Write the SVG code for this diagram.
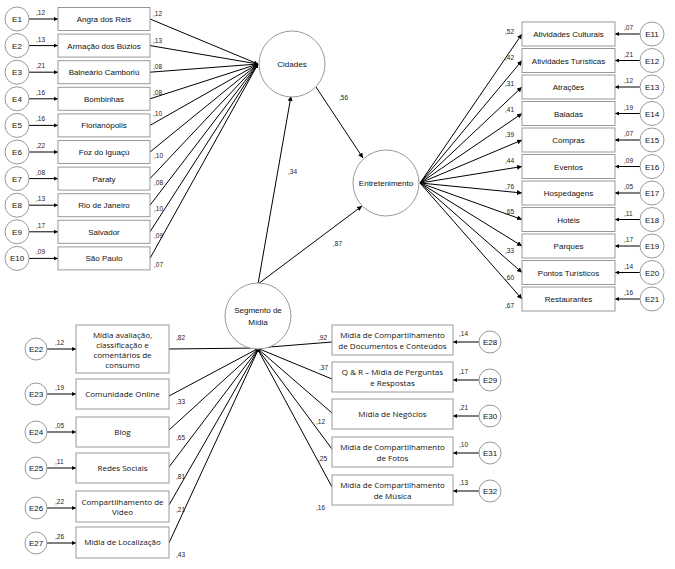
<svg xmlns="http://www.w3.org/2000/svg" width="675" height="569" viewBox="0 0 675 569">
<defs>
<marker id="ah" viewBox="0 0 10 10" refX="10" refY="5" markerWidth="5" markerHeight="5" orient="auto" markerUnits="userSpaceOnUse"><path d="M0,0 L10,5 L0,10 z" fill="#000"/></marker>
<marker id="ah2" viewBox="0 0 10 10" refX="10" refY="5" markerWidth="4" markerHeight="4" orient="auto" markerUnits="userSpaceOnUse"><path d="M0,0 L10,5 L0,10 z" fill="#000"/></marker>
</defs>
<style>
.bx{fill:#fff;stroke:#999;stroke-width:1}
.ci{fill:#fff;stroke:#999;stroke-width:1}
.t{font-family:"Liberation Sans",Arial,sans-serif;font-size:8px;fill:#111;text-anchor:middle}
.tg{font-family:"Open Sans","DejaVu Sans",sans-serif;font-size:8px;fill:#111;text-anchor:middle}
.n{font-family:"Liberation Sans",Arial,sans-serif;font-size:6.5px;fill:#222}
.la{stroke:#000;stroke-width:1;fill:none;marker-end:url(#ah)}
.ls{stroke:#000;stroke-width:1;fill:none;marker-end:url(#ah2)}
</style>

<g id="connectors">
<line class="ls" x1="29" y1="19" x2="58" y2="19"/>
<line class="ls" x1="29" y1="45.6" x2="58" y2="45.6"/>
<line class="ls" x1="29" y1="72.2" x2="58" y2="72.2"/>
<line class="ls" x1="29" y1="98.8" x2="58" y2="98.8"/>
<line class="ls" x1="29" y1="125.4" x2="58" y2="125.4"/>
<line class="ls" x1="29" y1="152" x2="58" y2="152"/>
<line class="ls" x1="29" y1="178.6" x2="58" y2="178.6"/>
<line class="ls" x1="29" y1="205.2" x2="58" y2="205.2"/>
<line class="ls" x1="29" y1="231.8" x2="58" y2="231.8"/>
<line class="ls" x1="29" y1="258.4" x2="58" y2="258.4"/>
<line class="ls" x1="150" y1="19" x2="258" y2="64"/>
<line class="ls" x1="150" y1="45.6" x2="258" y2="64"/>
<line class="ls" x1="150" y1="72.2" x2="258" y2="64"/>
<line class="ls" x1="150" y1="98.8" x2="258" y2="64"/>
<line class="ls" x1="150" y1="125.4" x2="258" y2="64"/>
<line class="ls" x1="150" y1="152" x2="258" y2="64"/>
<line class="ls" x1="150" y1="178.6" x2="258" y2="64"/>
<line class="ls" x1="150" y1="205.2" x2="258" y2="64"/>
<line class="ls" x1="150" y1="231.8" x2="258" y2="64"/>
<line class="ls" x1="150" y1="258.4" x2="258" y2="64"/>
<line class="la" x1="316" y1="87" x2="363" y2="158"/>
<line class="la" x1="258" y1="284" x2="291" y2="96"/>
<line class="la" x1="258" y1="284" x2="362" y2="206"/>
<line class="la" x1="420" y1="183" x2="522" y2="34"/>
<line class="la" x1="420" y1="183" x2="522" y2="60.5"/>
<line class="la" x1="420" y1="183" x2="522" y2="87"/>
<line class="la" x1="420" y1="183" x2="522" y2="113.5"/>
<line class="la" x1="420" y1="183" x2="522" y2="140"/>
<line class="la" x1="420" y1="183" x2="522" y2="166.5"/>
<line class="la" x1="420" y1="183" x2="522" y2="193"/>
<line class="la" x1="420" y1="183" x2="522" y2="219.5"/>
<line class="la" x1="420" y1="183" x2="522" y2="246"/>
<line class="la" x1="420" y1="183" x2="522" y2="272.5"/>
<line class="la" x1="420" y1="183" x2="522" y2="299"/>
<line class="ls" x1="640" y1="34" x2="615" y2="34"/>
<line class="ls" x1="640" y1="60.5" x2="615" y2="60.5"/>
<line class="ls" x1="640" y1="87" x2="615" y2="87"/>
<line class="ls" x1="640" y1="113.5" x2="615" y2="113.5"/>
<line class="ls" x1="640" y1="140" x2="615" y2="140"/>
<line class="ls" x1="640" y1="166.5" x2="615" y2="166.5"/>
<line class="ls" x1="640" y1="193" x2="615" y2="193"/>
<line class="ls" x1="640" y1="219.5" x2="615" y2="219.5"/>
<line class="ls" x1="640" y1="246" x2="615" y2="246"/>
<line class="ls" x1="640" y1="272.5" x2="615" y2="272.5"/>
<line class="ls" x1="640" y1="299" x2="615" y2="299"/>
<line class="ls" x1="47" y1="349" x2="76" y2="349"/>
<line class="ls" x1="47" y1="394" x2="76" y2="394"/>
<line class="ls" x1="47" y1="432" x2="76" y2="432"/>
<line class="ls" x1="47" y1="468" x2="76" y2="468"/>
<line class="ls" x1="47" y1="508" x2="76" y2="508"/>
<line class="ls" x1="47" y1="543" x2="76" y2="543"/>
<line class="ls" x1="169" y1="349" x2="259" y2="348"/>
<line class="ls" x1="169" y1="396" x2="259" y2="348"/>
<line class="ls" x1="169" y1="430" x2="259" y2="348"/>
<line class="ls" x1="169" y1="467" x2="259" y2="348"/>
<line class="ls" x1="169" y1="505" x2="259" y2="348"/>
<line class="ls" x1="169" y1="543" x2="259" y2="348"/>
<line class="ls" x1="332" y1="342" x2="257" y2="348"/>
<line class="ls" x1="332" y1="379" x2="257" y2="348"/>
<line class="ls" x1="332" y1="413" x2="257" y2="348"/>
<line class="ls" x1="332" y1="449" x2="257" y2="348"/>
<line class="ls" x1="332" y1="487" x2="257" y2="348"/>
<line class="ls" x1="479" y1="342" x2="453" y2="342"/>
<line class="ls" x1="479" y1="380" x2="453" y2="380"/>
<line class="ls" x1="479" y1="416" x2="453" y2="416"/>
<line class="ls" x1="479" y1="453" x2="453" y2="453"/>
<line class="ls" x1="479" y1="491" x2="453" y2="491"/>
</g>

<g id="labels">
<text class="n" x="36" y="15">,12</text>
<text class="n" x="36" y="41.6">,13</text>
<text class="n" x="36" y="68.2">,21</text>
<text class="n" x="36" y="94.8">,16</text>
<text class="n" x="36" y="121.4">,16</text>
<text class="n" x="36" y="148">,22</text>
<text class="n" x="36" y="174.6">,08</text>
<text class="n" x="36" y="201.2">,13</text>
<text class="n" x="36" y="227.8">,17</text>
<text class="n" x="36" y="254.4">,09</text>
<text class="n" x="153" y="16">,12</text>
<text class="n" x="153" y="43">,13</text>
<text class="n" x="153" y="69">,08</text>
<text class="n" x="153" y="95">,08</text>
<text class="n" x="153" y="116">,10</text>
<text class="n" x="154" y="158">,10</text>
<text class="n" x="154" y="185">,08</text>
<text class="n" x="154" y="211">,10</text>
<text class="n" x="154" y="238">,09</text>
<text class="n" x="154" y="267">,07</text>
<text class="n" x="339" y="100">,56</text>
<text class="n" x="288" y="174">,34</text>
<text class="n" x="333" y="246">,87</text>
<text class="n" x="505" y="34">,52</text>
<text class="n" x="505" y="60">,42</text>
<text class="n" x="505" y="86">,31</text>
<text class="n" x="505" y="112">,41</text>
<text class="n" x="505" y="137">,39</text>
<text class="n" x="505" y="163">,44</text>
<text class="n" x="505" y="189">,76</text>
<text class="n" x="505" y="214">,65</text>
<text class="n" x="505" y="253">,33</text>
<text class="n" x="505" y="280">,60</text>
<text class="n" x="505" y="308">,67</text>
<text class="n" x="624" y="30">,07</text>
<text class="n" x="624" y="56.5">,21</text>
<text class="n" x="624" y="83">,12</text>
<text class="n" x="624" y="109.5">,19</text>
<text class="n" x="624" y="136">,07</text>
<text class="n" x="624" y="162.5">,09</text>
<text class="n" x="624" y="189">,05</text>
<text class="n" x="624" y="215.5">,11</text>
<text class="n" x="624" y="242">,17</text>
<text class="n" x="624" y="268.5">,14</text>
<text class="n" x="624" y="295">,16</text>
<text class="n" x="55" y="345">,12</text>
<text class="n" x="55" y="390">,19</text>
<text class="n" x="55" y="428">,05</text>
<text class="n" x="55" y="464">,11</text>
<text class="n" x="55" y="504">,22</text>
<text class="n" x="55" y="539">,26</text>
<text class="n" x="176" y="340">,82</text>
<text class="n" x="176" y="404">,33</text>
<text class="n" x="176" y="440">,65</text>
<text class="n" x="176" y="479">,81</text>
<text class="n" x="176" y="512">,21</text>
<text class="n" x="176" y="557">,43</text>
<text class="n" x="318" y="340">,92</text>
<text class="n" x="319" y="370">,37</text>
<text class="n" x="316" y="424">,12</text>
<text class="n" x="318" y="461">,25</text>
<text class="n" x="316" y="510">,16</text>
<text class="n" x="459" y="336">,14</text>
<text class="n" x="459" y="374">,17</text>
<text class="n" x="459" y="410">,21</text>
<text class="n" x="459" y="447">,10</text>
<text class="n" x="459" y="485">,13</text>
</g>

<g id="cidades"><circle class="ci" cx="292" cy="64" r="33"/><text class="t" x="292" y="67">Cidades</text></g>
<g id="entretenimento"><circle class="ci" cx="386" cy="183" r="33"/><text class="t" x="386" y="186">Entretenimento</text></g>
<g id="segmento"><circle class="ci" cx="258" cy="316" r="33"/><text class="t" x="258" y="313">Segmento de</text><text class="t" x="258" y="325">Mídia</text></g>

<g id="e1"><circle class="ci" cx="17" cy="19" r="12"/><text class="t" x="17" y="22">E1</text></g>
<g id="e2"><circle class="ci" cx="17" cy="45.6" r="12"/><text class="t" x="17" y="48.6">E2</text></g>
<g id="e3"><circle class="ci" cx="17" cy="72.2" r="12"/><text class="t" x="17" y="75.2">E3</text></g>
<g id="e4"><circle class="ci" cx="17" cy="98.8" r="12"/><text class="t" x="17" y="101.8">E4</text></g>
<g id="e5"><circle class="ci" cx="17" cy="125.4" r="12"/><text class="t" x="17" y="128.4">E5</text></g>
<g id="e6"><circle class="ci" cx="17" cy="152" r="12"/><text class="t" x="17" y="155">E6</text></g>
<g id="e7"><circle class="ci" cx="17" cy="178.6" r="12"/><text class="t" x="17" y="181.6">E7</text></g>
<g id="e8"><circle class="ci" cx="17" cy="205.2" r="12"/><text class="t" x="17" y="208.2">E8</text></g>
<g id="e9"><circle class="ci" cx="17" cy="231.8" r="12"/><text class="t" x="17" y="234.8">E9</text></g>
<g id="e10"><circle class="ci" cx="17" cy="258.4" r="12"/><text class="t" x="17" y="261.4">E10</text></g>

<g id="angra"><rect class="bx" x="58" y="7.5" width="92" height="23"/><text class="t" x="104" y="22">Angra dos Reis</text></g>
<g id="buzios"><rect class="bx" x="58" y="34.1" width="92" height="23"/><text class="t" x="104" y="48.6">Armação dos Búzios</text></g>
<g id="camboriu"><rect class="bx" x="58" y="60.7" width="92" height="23"/><text class="t" x="104" y="75.2">Balneário Camboriú</text></g>
<g id="bombinhas"><rect class="bx" x="58" y="87.3" width="92" height="23"/><text class="t" x="104" y="101.8">Bombinhas</text></g>
<g id="floripa"><rect class="bx" x="58" y="113.9" width="92" height="23"/><text class="t" x="104" y="128.4">Florianópolis</text></g>
<g id="foz"><rect class="bx" x="58" y="140.5" width="92" height="23"/><text class="t" x="104" y="155">Foz do Iguaçú</text></g>
<g id="paraty"><rect class="bx" x="58" y="167.1" width="92" height="23"/><text class="t" x="104" y="181.6">Paraty</text></g>
<g id="rio"><rect class="bx" x="58" y="193.7" width="92" height="23"/><text class="t" x="104" y="208.2">Rio de Janeiro</text></g>
<g id="salvador"><rect class="bx" x="58" y="220.3" width="92" height="23"/><text class="t" x="104" y="234.8">Salvador</text></g>
<g id="saopaulo"><rect class="bx" x="58" y="246.9" width="92" height="23"/><text class="t" x="104" y="261.4">São Paulo</text></g>

<g id="culturais"><rect class="bx" x="522" y="22" width="93" height="24"/><text class="t" x="568.5" y="37">Atividades Culturais</text></g>
<g id="turisticas"><rect class="bx" x="522" y="48.5" width="93" height="24"/><text class="t" x="568.5" y="63.5">Atividades Turísticas</text></g>
<g id="atracoes"><rect class="bx" x="522" y="75" width="93" height="24"/><text class="t" x="568.5" y="90">Atrações</text></g>
<g id="baladas"><rect class="bx" x="522" y="101.5" width="93" height="24"/><text class="t" x="568.5" y="116.5">Baladas</text></g>
<g id="compras"><rect class="bx" x="522" y="128" width="93" height="24"/><text class="t" x="568.5" y="143">Compras</text></g>
<g id="eventos"><rect class="bx" x="522" y="154.5" width="93" height="24"/><text class="t" x="568.5" y="169.5">Eventos</text></g>
<g id="hospedagens"><rect class="bx" x="522" y="181" width="93" height="24"/><text class="t" x="568.5" y="196">Hospedagens</text></g>
<g id="hoteis"><rect class="bx" x="522" y="207.5" width="93" height="24"/><text class="t" x="568.5" y="222.5">Hotéis</text></g>
<g id="parques"><rect class="bx" x="522" y="234" width="93" height="24"/><text class="t" x="568.5" y="249">Parques</text></g>
<g id="pontos"><rect class="bx" x="522" y="260.5" width="93" height="24"/><text class="t" x="568.5" y="275.5">Pontos Turísticos</text></g>
<g id="restaurantes"><rect class="bx" x="522" y="287" width="93" height="24"/><text class="t" x="568.5" y="302">Restaurantes</text></g>

<g id="e11"><circle class="ci" cx="652" cy="34" r="12"/><text class="t" x="652" y="37">E11</text></g>
<g id="e12"><circle class="ci" cx="652" cy="60.5" r="12"/><text class="t" x="652" y="63.5">E12</text></g>
<g id="e13"><circle class="ci" cx="652" cy="87" r="12"/><text class="t" x="652" y="90">E13</text></g>
<g id="e14"><circle class="ci" cx="652" cy="113.5" r="12"/><text class="t" x="652" y="116.5">E14</text></g>
<g id="e15"><circle class="ci" cx="652" cy="140" r="12"/><text class="t" x="652" y="143">E15</text></g>
<g id="e16"><circle class="ci" cx="652" cy="166.5" r="12"/><text class="t" x="652" y="169.5">E16</text></g>
<g id="e17"><circle class="ci" cx="652" cy="193" r="12"/><text class="t" x="652" y="196">E17</text></g>
<g id="e18"><circle class="ci" cx="652" cy="219.5" r="12"/><text class="t" x="652" y="222.5">E18</text></g>
<g id="e19"><circle class="ci" cx="652" cy="246" r="12"/><text class="t" x="652" y="249">E19</text></g>
<g id="e20"><circle class="ci" cx="652" cy="272.5" r="12"/><text class="t" x="652" y="275.5">E20</text></g>
<g id="e21"><circle class="ci" cx="652" cy="299" r="12"/><text class="t" x="652" y="302">E21</text></g>

<g id="e22"><circle class="ci" cx="36" cy="349" r="11"/><text class="t" x="36" y="352">E22</text></g>
<g id="e23"><circle class="ci" cx="36" cy="394" r="11"/><text class="t" x="36" y="397">E23</text></g>
<g id="e24"><circle class="ci" cx="36" cy="432" r="11"/><text class="t" x="36" y="435">E24</text></g>
<g id="e25"><circle class="ci" cx="36" cy="468" r="11"/><text class="t" x="36" y="471">E25</text></g>
<g id="e26"><circle class="ci" cx="36" cy="508" r="11"/><text class="t" x="36" y="511">E26</text></g>
<g id="e27"><circle class="ci" cx="36" cy="543" r="11"/><text class="t" x="36" y="546">E27</text></g>

<g id="avaliacao"><rect class="bx" x="76" y="325" width="93" height="48"/><text class="tg" x="122.5" y="338">Mídia avaliação,</text><text class="tg" x="122.5" y="348">classificação e</text><text class="tg" x="122.5" y="358">comentários de</text><text class="tg" x="122.5" y="368">consumo</text></g>
<g id="comunidade"><rect class="bx" x="76" y="379" width="93" height="30"/><text class="tg" x="122.5" y="397">Comunidade Online</text></g>
<g id="blog"><rect class="bx" x="76" y="417" width="93" height="30"/><text class="tg" x="122.5" y="435">Blog</text></g>
<g id="redes"><rect class="bx" x="76" y="453" width="93" height="30"/><text class="tg" x="122.5" y="471">Redes Sociais</text></g>
<g id="video"><rect class="bx" x="76" y="491" width="93" height="31"/><text class="tg" x="122.5" y="505">Compartilhamento de</text><text class="tg" x="122.5" y="515">Vídeo</text></g>
<g id="localizacao"><rect class="bx" x="76" y="527" width="93" height="31"/><text class="tg" x="122.5" y="545">Mídia de Localização</text></g>

<g id="documentos"><rect class="bx" x="332" y="325" width="121" height="30"/><text class="tg" x="392.5" y="338">Mídia de Compartilhamento</text><text class="tg" x="392.5" y="349">de Documentos e Conteúdos</text></g>
<g id="qr"><rect class="bx" x="332" y="362" width="121" height="30"/><text class="tg" x="392.5" y="375">Q &amp; R  – Mídia de Perguntas</text><text class="tg" x="392.5" y="386">e Respostas</text></g>
<g id="negocios"><rect class="bx" x="332" y="399" width="121" height="30"/><text class="tg" x="392.5" y="417">Mídia de Negócios</text></g>
<g id="fotos"><rect class="bx" x="332" y="437" width="121" height="30"/><text class="tg" x="392.5" y="450">Mídia de Compartilhamento</text><text class="tg" x="392.5" y="461">de Fotos</text></g>
<g id="musica"><rect class="bx" x="332" y="475" width="121" height="30"/><text class="tg" x="392.5" y="488">Mídia de Compartilhamento</text><text class="tg" x="392.5" y="499">de Música</text></g>

<g id="e28"><circle class="ci" cx="490" cy="342" r="11"/><text class="t" x="490" y="345">E28</text></g>
<g id="e29"><circle class="ci" cx="490" cy="380" r="11"/><text class="t" x="490" y="383">E29</text></g>
<g id="e30"><circle class="ci" cx="490" cy="416" r="11"/><text class="t" x="490" y="419">E30</text></g>
<g id="e31"><circle class="ci" cx="490" cy="453" r="11"/><text class="t" x="490" y="456">E31</text></g>
<g id="e32"><circle class="ci" cx="490" cy="491" r="11"/><text class="t" x="490" y="494">E32</text></g>
</svg>
